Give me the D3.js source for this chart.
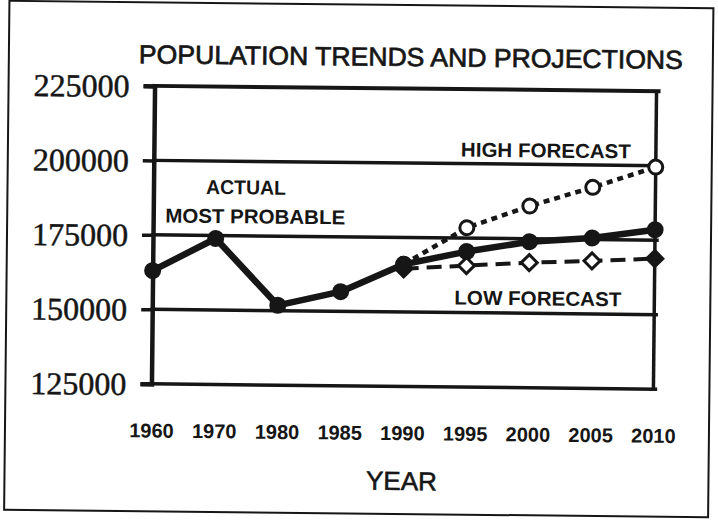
<!DOCTYPE html>
<html><head><meta charset="utf-8">
<script src="https://cdn.jsdelivr.net/npm/d3@7"></script>
<style>body{margin:0;background:#fff}svg{display:block}</style>
</head><body>
<svg id="c" width="718" height="529"></svg>
<script>
// ---- data ----
const years = ["1960","1970","1980","1985","1990","1995","2000","2005","2010"];
const actualValues = [163000,174000,151800,156600,166000,170500,174000,175500,178500];
const forecastYears = ["1990","1995","2000","2005","2010"];
const highValues = [166000,178500,186000,192500,199500];
const lowValues = [164500,165800,167000,167800,168800];
const yTicks = [125000,150000,175000,200000,225000];
const titleText = "POPULATION TRENDS AND PROJECTIONS";
const xTitleText = "YEAR";
const annotationTexts = ["ACTUAL","MOST PROBABLE","HIGH FORECAST","LOW FORECAST"];

// ---- drawing ----
const ink = "#161616";
const svg = d3.select("#c");
const g = svg.append("g").attr("transform","rotate(0.6,404,237)");

const x = d3.scalePoint().domain(years).range([153,655]);
const y = d3.scaleLinear().domain([125000,225000]).range([386.5,88.5]);

// outer frame
g.append("rect").attr("x",7).attr("y",5).attr("width",704).attr("height",509)
  .attr("fill","none").attr("stroke",ink).attr("stroke-width",2);

// title
g.append("text").attr("x",409).attr("y",66).attr("text-anchor","middle")
  .attr("font-family","Liberation Sans, Arial, sans-serif").attr("font-size",26)
  .attr("fill",ink).attr("stroke",ink).attr("stroke-width",0.7)
  .attr("textLength",544).attr("lengthAdjust","spacingAndGlyphs")
  .text(titleText);

// horizontal grid / frame lines
g.append("g").selectAll("line").data(yTicks).join("line")
  .attr("x1",x.range()[0]).attr("x2",x.range()[1]+2)
  .attr("y1",d=>y(d)).attr("y2",d=>y(d))
  .attr("stroke",ink).attr("stroke-width",d=>(d===225000?4:3.5))
  .attr("stroke-linecap","square");
// right border of plot
g.append("line").attr("x1",x.range()[1]).attr("x2",x.range()[1])
  .attr("y1",y(225000)).attr("y2",y(125000)).attr("stroke",ink).attr("stroke-width",3.5);

// y axis
const yAxis = d3.axisLeft(y).tickValues(yTicks).tickSize(11).tickPadding(14).tickFormat(d3.format("d"));
const ya = g.append("g").attr("transform",`translate(${x.range()[0]},0)`).call(yAxis);
ya.select(".domain").attr("stroke",ink).attr("stroke-width",4.5);
ya.selectAll(".tick line").attr("stroke",ink).attr("stroke-width",3.5);
ya.selectAll(".tick text").attr("font-family","Liberation Serif, Times New Roman, serif")
  .attr("font-size",32).attr("fill",ink).attr("stroke",ink).attr("stroke-width",0.5)
  .attr("dy","0.34em");

// x axis labels
const xAxis = d3.axisBottom(x).tickSize(0).tickPadding(0);
const xa = g.append("g").attr("transform","translate(0,426)").call(xAxis);
xa.select(".domain").remove();
xa.selectAll(".tick text").attr("font-family","Liberation Sans, Arial, sans-serif")
  .attr("font-weight","bold").attr("font-size",20).attr("fill",ink).attr("dy","0.71em");

// x title
g.append("text").attr("x",404).attr("y",490).attr("text-anchor","middle")
  .attr("font-family","Liberation Sans, Arial, sans-serif").attr("font-size",26)
  .attr("fill",ink).attr("stroke",ink).attr("stroke-width",0.6).text(xTitleText);

// series
const lineGen = (ys, xs) => d3.line().x((d,i)=>x(xs[i])).y(d=>y(d))(ys);

// low forecast (dashed, open diamonds)
g.append("path").attr("d",lineGen(lowValues,forecastYears)).attr("fill","none")
  .attr("stroke",ink).attr("stroke-width",4).attr("stroke-dasharray","15,8");
g.append("g").selectAll("path").data(lowValues).join("path")
  .attr("transform",(d,i)=>`translate(${x(forecastYears[i])},${y(d)})`)
  .attr("d","M0,-8L8,0L0,8L-8,0Z")
  .attr("fill",(d,i)=> i===0||i===lowValues.length-1 ? ink : "#fff")
  .attr("stroke",ink).attr("stroke-width",3);

// high forecast (dotted, open circles)
g.append("path").attr("d",lineGen(highValues,forecastYears)).attr("fill","none")
  .attr("stroke",ink).attr("stroke-width",4.5).attr("stroke-dasharray","6,5");
g.append("g").selectAll("circle").data(highValues).join("circle")
  .attr("cx",(d,i)=>x(forecastYears[i])).attr("cy",d=>y(d)).attr("r",7)
  .attr("fill","#fff").attr("stroke",ink).attr("stroke-width",3);

// actual / most probable (thick solid, filled circles)
g.append("path").attr("d",lineGen(actualValues,years)).attr("fill","none")
  .attr("stroke",ink).attr("stroke-width",6.5).attr("stroke-linejoin","round");
g.append("g").selectAll("circle").data(actualValues).join("circle")
  .attr("cx",(d,i)=>x(years[i])).attr("cy",d=>y(d)).attr("r",8.5).attr("fill",ink);

// annotations
const ann = [
  {t:annotationTexts[0], x:245.5, y:196, w:80},
  {t:annotationTexts[1], x:255, y:225, w:180},
  {t:annotationTexts[2], x:545, y:156, w:170},
  {t:annotationTexts[3], x:538.5, y:304, w:167}
];
g.append("g").selectAll("text").data(ann).join("text")
  .attr("x",d=>d.x).attr("y",d=>d.y).attr("text-anchor","middle")
  .attr("font-family","Liberation Sans, Arial, sans-serif").attr("font-weight","bold")
  .attr("font-size",20).attr("fill",ink)
  .attr("textLength",d=>d.w).attr("lengthAdjust","spacingAndGlyphs")
  .text(d=>d.t);
</script>
</body></html>
